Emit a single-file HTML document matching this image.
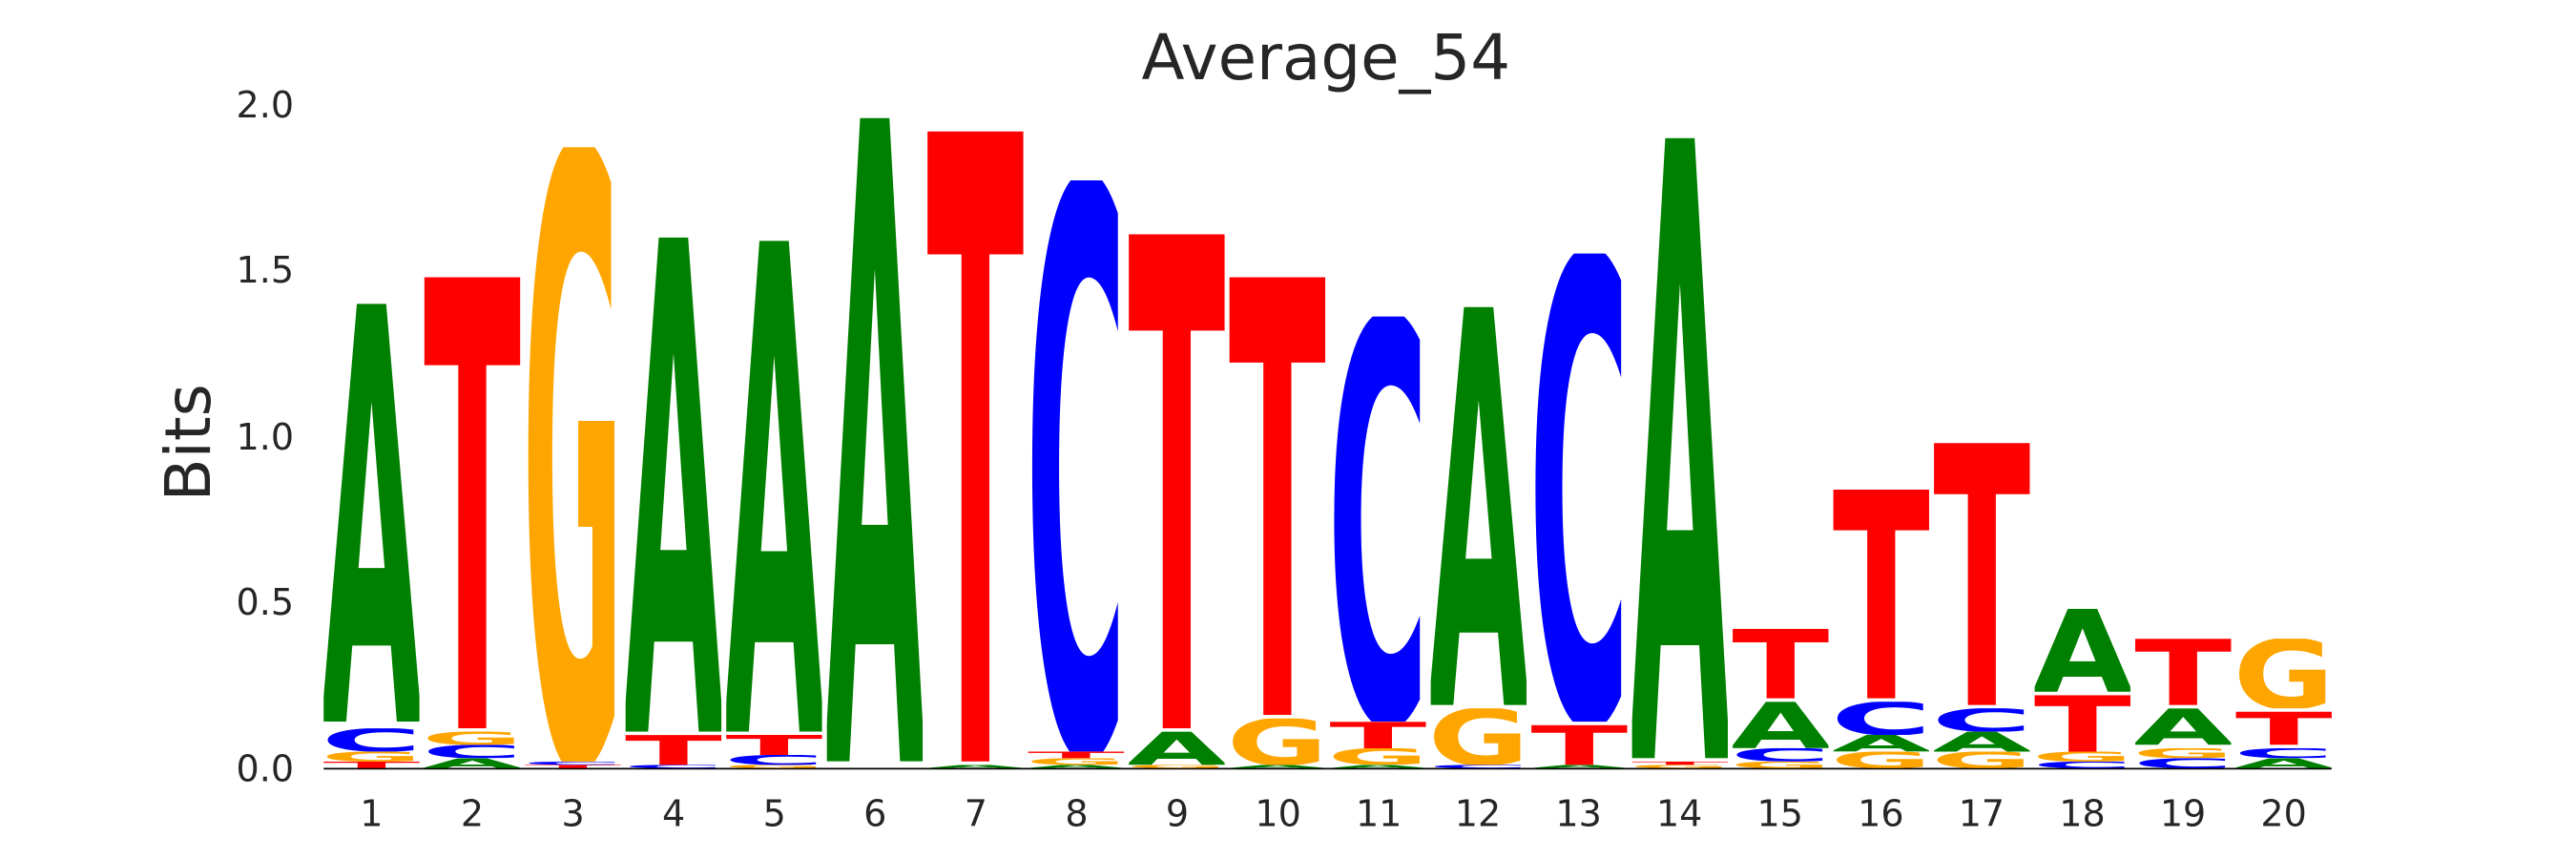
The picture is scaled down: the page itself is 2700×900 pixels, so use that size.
<!DOCTYPE html>
<html><head><meta charset="utf-8"><style>
html,body{margin:0;padding:0;background:#fff;width:2700px;height:900px;overflow:hidden;}
svg{display:block;}
svg svg{display:inline;}
.L{font-family:"DejaVu Sans","Liberation Sans",sans-serif;font-weight:bold;font-size:100px;}
.a{fill:#008000}.c{fill:#0000ff}.g{fill:#ffa500}.t{fill:#ff0000}
.lab{font-family:"DejaVu Sans","Liberation Sans",sans-serif;fill:#262626;}
</style></head><body>
<svg width="2700" height="900" viewBox="0 0 1560 520" xmlns="http://www.w3.org/2000/svg" style="position:absolute;left:0;top:0;overflow:hidden">
<text class="lab" x="803" y="48" font-size="38" text-anchor="middle">Average_54</text>
<text class="lab" x="0" y="0" font-size="38" text-anchor="middle" transform="translate(127,268) rotate(-90)">Bits</text>
<g class="lab" font-size="22" text-anchor="end">
<text x="178" y="473">0.0</text><text x="178" y="372">0.5</text><text x="178" y="272">1.0</text><text x="178" y="171">1.5</text><text x="178" y="71">2.0</text>
</g>
<g class="lab" font-size="22" text-anchor="middle">
<text x="225" y="500">1</text><text x="286" y="500">2</text><text x="347" y="500">3</text><text x="408" y="500">4</text><text x="469" y="500">5</text><text x="530" y="500">6</text><text x="591" y="500">7</text><text x="652" y="500">8</text><text x="713" y="500">9</text><text x="774" y="500">10</text><text x="835" y="500">11</text><text x="895" y="500">12</text><text x="956" y="500">13</text><text x="1017" y="500">14</text><text x="1078" y="500">15</text><text x="1139" y="500">16</text><text x="1200" y="500">17</text><text x="1261" y="500">18</text><text x="1322" y="500">19</text><text x="1383" y="500">20</text>
</g>
<line x1="196" y1="465.3" x2="1412" y2="465.3" stroke="#000" stroke-width="1"/>
<g class="L">
<svg x="196" y="461" width="58" height="4" viewBox="2 -73 68 73" preserveAspectRatio="none"><text class="t" textLength="72" lengthAdjust="spacingAndGlyphs">T</text></svg>
<svg x="196" y="455" width="58" height="6" viewBox="2 -73 68 73" preserveAspectRatio="none"><text class="g" textLength="72" lengthAdjust="spacingAndGlyphs">G</text></svg>
<svg x="196" y="440.9" width="58" height="14" viewBox="2 -73 68 73" preserveAspectRatio="none"><text class="c" textLength="72" lengthAdjust="spacingAndGlyphs">C</text></svg>
<svg x="196" y="183.6" width="58" height="253.3" viewBox="2 -73 68 73" preserveAspectRatio="none"><text class="a" textLength="72" lengthAdjust="spacingAndGlyphs">A</text></svg>
<svg x="257" y="459" width="58" height="6" viewBox="2 -73 68 73" preserveAspectRatio="none"><text class="a" textLength="72" lengthAdjust="spacingAndGlyphs">A</text></svg>
<svg x="257" y="450.9" width="58" height="8" viewBox="2 -73 68 73" preserveAspectRatio="none"><text class="c" textLength="72" lengthAdjust="spacingAndGlyphs">C</text></svg>
<svg x="257" y="442.9" width="58" height="8" viewBox="2 -73 68 73" preserveAspectRatio="none"><text class="g" textLength="72" lengthAdjust="spacingAndGlyphs">G</text></svg>
<svg x="257" y="167.5" width="58" height="273.4" viewBox="2 -73 68 73" preserveAspectRatio="none"><text class="t" textLength="72" lengthAdjust="spacingAndGlyphs">T</text></svg>
<svg x="317.9" y="463" width="58" height="2" viewBox="2 -73 68 73" preserveAspectRatio="none"><text class="t" textLength="72" lengthAdjust="spacingAndGlyphs">T</text></svg>
<svg x="317.9" y="461" width="58" height="2" viewBox="2 -73 68 73" preserveAspectRatio="none"><text class="c" textLength="72" lengthAdjust="spacingAndGlyphs">C</text></svg>
<svg x="317.9" y="89.1" width="58" height="371.9" viewBox="2 -73 68 73" preserveAspectRatio="none"><text class="g" textLength="72" lengthAdjust="spacingAndGlyphs">G</text></svg>
<svg x="378.85" y="463" width="58" height="2" viewBox="2 -73 68 73" preserveAspectRatio="none"><text class="c" textLength="72" lengthAdjust="spacingAndGlyphs">C</text></svg>
<svg x="378.85" y="444.9" width="58" height="18.1" viewBox="2 -73 68 73" preserveAspectRatio="none"><text class="t" textLength="72" lengthAdjust="spacingAndGlyphs">T</text></svg>
<svg x="378.85" y="143.4" width="58" height="299.5" viewBox="2 -73 68 73" preserveAspectRatio="none"><text class="a" textLength="72" lengthAdjust="spacingAndGlyphs">A</text></svg>
<svg x="439.8" y="463" width="58" height="2" viewBox="2 -73 68 73" preserveAspectRatio="none"><text class="g" textLength="72" lengthAdjust="spacingAndGlyphs">G</text></svg>
<svg x="439.8" y="457" width="58" height="6" viewBox="2 -73 68 73" preserveAspectRatio="none"><text class="c" textLength="72" lengthAdjust="spacingAndGlyphs">C</text></svg>
<svg x="439.8" y="444.9" width="58" height="12.1" viewBox="2 -73 68 73" preserveAspectRatio="none"><text class="t" textLength="72" lengthAdjust="spacingAndGlyphs">T</text></svg>
<svg x="439.8" y="145.4" width="58" height="297.5" viewBox="2 -73 68 73" preserveAspectRatio="none"><text class="a" textLength="72" lengthAdjust="spacingAndGlyphs">A</text></svg>
<svg x="500.75" y="71" width="58" height="389.9" viewBox="2 -73 68 73" preserveAspectRatio="none"><text class="a" textLength="72" lengthAdjust="spacingAndGlyphs">A</text></svg>
<svg x="561.7" y="463" width="58" height="2" viewBox="2 -73 68 73" preserveAspectRatio="none"><text class="a" textLength="72" lengthAdjust="spacingAndGlyphs">A</text></svg>
<svg x="561.7" y="79.1" width="58" height="381.9" viewBox="2 -73 68 73" preserveAspectRatio="none"><text class="t" textLength="72" lengthAdjust="spacingAndGlyphs">T</text></svg>
<svg x="622.65" y="463" width="58" height="2" viewBox="2 -73 68 73" preserveAspectRatio="none"><text class="a" textLength="72" lengthAdjust="spacingAndGlyphs">A</text></svg>
<svg x="622.65" y="459" width="58" height="4" viewBox="2 -73 68 73" preserveAspectRatio="none"><text class="g" textLength="72" lengthAdjust="spacingAndGlyphs">G</text></svg>
<svg x="622.65" y="455" width="58" height="4" viewBox="2 -73 68 73" preserveAspectRatio="none"><text class="t" textLength="72" lengthAdjust="spacingAndGlyphs">T</text></svg>
<svg x="622.65" y="109.2" width="58" height="345.7" viewBox="2 -73 68 73" preserveAspectRatio="none"><text class="c" textLength="72" lengthAdjust="spacingAndGlyphs">C</text></svg>
<svg x="683.6" y="463" width="58" height="2" viewBox="2 -73 68 73" preserveAspectRatio="none"><text class="g" textLength="72" lengthAdjust="spacingAndGlyphs">G</text></svg>
<svg x="683.6" y="442.9" width="58" height="20.1" viewBox="2 -73 68 73" preserveAspectRatio="none"><text class="a" textLength="72" lengthAdjust="spacingAndGlyphs">A</text></svg>
<svg x="683.6" y="141.4" width="58" height="299.5" viewBox="2 -73 68 73" preserveAspectRatio="none"><text class="t" textLength="72" lengthAdjust="spacingAndGlyphs">T</text></svg>
<svg x="744.55" y="463" width="58" height="2" viewBox="2 -73 68 73" preserveAspectRatio="none"><text class="a" textLength="72" lengthAdjust="spacingAndGlyphs">A</text></svg>
<svg x="744.55" y="434.9" width="58" height="28.1" viewBox="2 -73 68 73" preserveAspectRatio="none"><text class="g" textLength="72" lengthAdjust="spacingAndGlyphs">G</text></svg>
<svg x="744.55" y="167.5" width="58" height="265.3" viewBox="2 -73 68 73" preserveAspectRatio="none"><text class="t" textLength="72" lengthAdjust="spacingAndGlyphs">T</text></svg>
<svg x="805.5" y="463" width="58" height="2" viewBox="2 -73 68 73" preserveAspectRatio="none"><text class="a" textLength="72" lengthAdjust="spacingAndGlyphs">A</text></svg>
<svg x="805.5" y="452.9" width="58" height="10" viewBox="2 -73 68 73" preserveAspectRatio="none"><text class="g" textLength="72" lengthAdjust="spacingAndGlyphs">G</text></svg>
<svg x="805.5" y="436.9" width="58" height="16.1" viewBox="2 -73 68 73" preserveAspectRatio="none"><text class="t" textLength="72" lengthAdjust="spacingAndGlyphs">T</text></svg>
<svg x="805.5" y="191.6" width="58" height="245.2" viewBox="2 -73 68 73" preserveAspectRatio="none"><text class="c" textLength="72" lengthAdjust="spacingAndGlyphs">C</text></svg>
<svg x="866.45" y="463" width="58" height="2" viewBox="2 -73 68 73" preserveAspectRatio="none"><text class="c" textLength="72" lengthAdjust="spacingAndGlyphs">C</text></svg>
<svg x="866.45" y="428.8" width="58" height="34.2" viewBox="2 -73 68 73" preserveAspectRatio="none"><text class="g" textLength="72" lengthAdjust="spacingAndGlyphs">G</text></svg>
<svg x="866.45" y="185.6" width="58" height="241.2" viewBox="2 -73 68 73" preserveAspectRatio="none"><text class="a" textLength="72" lengthAdjust="spacingAndGlyphs">A</text></svg>
<svg x="927.4" y="463" width="58" height="2" viewBox="2 -73 68 73" preserveAspectRatio="none"><text class="a" textLength="72" lengthAdjust="spacingAndGlyphs">A</text></svg>
<svg x="927.4" y="438.9" width="58" height="24.1" viewBox="2 -73 68 73" preserveAspectRatio="none"><text class="t" textLength="72" lengthAdjust="spacingAndGlyphs">T</text></svg>
<svg x="927.4" y="153.5" width="58" height="283.4" viewBox="2 -73 68 73" preserveAspectRatio="none"><text class="c" textLength="72" lengthAdjust="spacingAndGlyphs">C</text></svg>
<svg x="988.35" y="463" width="58" height="2" viewBox="2 -73 68 73" preserveAspectRatio="none"><text class="g" textLength="72" lengthAdjust="spacingAndGlyphs">G</text></svg>
<svg x="988.35" y="461" width="58" height="2" viewBox="2 -73 68 73" preserveAspectRatio="none"><text class="t" textLength="72" lengthAdjust="spacingAndGlyphs">T</text></svg>
<svg x="988.35" y="83.1" width="58" height="375.9" viewBox="2 -73 68 73" preserveAspectRatio="none"><text class="a" textLength="72" lengthAdjust="spacingAndGlyphs">A</text></svg>
<svg x="1049.3" y="461" width="58" height="4" viewBox="2 -73 68 73" preserveAspectRatio="none"><text class="g" textLength="72" lengthAdjust="spacingAndGlyphs">G</text></svg>
<svg x="1049.3" y="452.9" width="58" height="8" viewBox="2 -73 68 73" preserveAspectRatio="none"><text class="c" textLength="72" lengthAdjust="spacingAndGlyphs">C</text></svg>
<svg x="1049.3" y="424.8" width="58" height="28.1" viewBox="2 -73 68 73" preserveAspectRatio="none"><text class="a" textLength="72" lengthAdjust="spacingAndGlyphs">A</text></svg>
<svg x="1049.3" y="380.6" width="58" height="42.2" viewBox="2 -73 68 73" preserveAspectRatio="none"><text class="t" textLength="72" lengthAdjust="spacingAndGlyphs">T</text></svg>
<svg x="1110.25" y="455" width="58" height="10" viewBox="2 -73 68 73" preserveAspectRatio="none"><text class="g" textLength="72" lengthAdjust="spacingAndGlyphs">G</text></svg>
<svg x="1110.25" y="444.9" width="58" height="10" viewBox="2 -73 68 73" preserveAspectRatio="none"><text class="a" textLength="72" lengthAdjust="spacingAndGlyphs">A</text></svg>
<svg x="1110.25" y="424.8" width="58" height="20.1" viewBox="2 -73 68 73" preserveAspectRatio="none"><text class="c" textLength="72" lengthAdjust="spacingAndGlyphs">C</text></svg>
<svg x="1110.25" y="296.2" width="58" height="126.6" viewBox="2 -73 68 73" preserveAspectRatio="none"><text class="t" textLength="72" lengthAdjust="spacingAndGlyphs">T</text></svg>
<svg x="1171.2" y="455" width="58" height="10" viewBox="2 -73 68 73" preserveAspectRatio="none"><text class="g" textLength="72" lengthAdjust="spacingAndGlyphs">G</text></svg>
<svg x="1171.2" y="442.9" width="58" height="12.1" viewBox="2 -73 68 73" preserveAspectRatio="none"><text class="a" textLength="72" lengthAdjust="spacingAndGlyphs">A</text></svg>
<svg x="1171.2" y="428.8" width="58" height="14.1" viewBox="2 -73 68 73" preserveAspectRatio="none"><text class="c" textLength="72" lengthAdjust="spacingAndGlyphs">C</text></svg>
<svg x="1171.2" y="268" width="58" height="158.8" viewBox="2 -73 68 73" preserveAspectRatio="none"><text class="t" textLength="72" lengthAdjust="spacingAndGlyphs">T</text></svg>
<svg x="1232.15" y="461" width="58" height="4" viewBox="2 -73 68 73" preserveAspectRatio="none"><text class="c" textLength="72" lengthAdjust="spacingAndGlyphs">C</text></svg>
<svg x="1232.15" y="455" width="58" height="6" viewBox="2 -73 68 73" preserveAspectRatio="none"><text class="g" textLength="72" lengthAdjust="spacingAndGlyphs">G</text></svg>
<svg x="1232.15" y="420.8" width="58" height="34.2" viewBox="2 -73 68 73" preserveAspectRatio="none"><text class="t" textLength="72" lengthAdjust="spacingAndGlyphs">T</text></svg>
<svg x="1232.15" y="368.5" width="58" height="50.3" viewBox="2 -73 68 73" preserveAspectRatio="none"><text class="a" textLength="72" lengthAdjust="spacingAndGlyphs">A</text></svg>
<svg x="1293.1" y="459" width="58" height="6" viewBox="2 -73 68 73" preserveAspectRatio="none"><text class="c" textLength="72" lengthAdjust="spacingAndGlyphs">C</text></svg>
<svg x="1293.1" y="452.9" width="58" height="6" viewBox="2 -73 68 73" preserveAspectRatio="none"><text class="g" textLength="72" lengthAdjust="spacingAndGlyphs">G</text></svg>
<svg x="1293.1" y="428.8" width="58" height="22.1" viewBox="2 -73 68 73" preserveAspectRatio="none"><text class="a" textLength="72" lengthAdjust="spacingAndGlyphs">A</text></svg>
<svg x="1293.1" y="386.6" width="58" height="40.2" viewBox="2 -73 68 73" preserveAspectRatio="none"><text class="t" textLength="72" lengthAdjust="spacingAndGlyphs">T</text></svg>
<svg x="1354.05" y="459" width="58" height="6" viewBox="2 -73 68 73" preserveAspectRatio="none"><text class="a" textLength="72" lengthAdjust="spacingAndGlyphs">A</text></svg>
<svg x="1354.05" y="452.9" width="58" height="6" viewBox="2 -73 68 73" preserveAspectRatio="none"><text class="c" textLength="72" lengthAdjust="spacingAndGlyphs">C</text></svg>
<svg x="1354.05" y="430.8" width="58" height="20.1" viewBox="2 -73 68 73" preserveAspectRatio="none"><text class="t" textLength="72" lengthAdjust="spacingAndGlyphs">T</text></svg>
<svg x="1354.05" y="386.6" width="58" height="42.2" viewBox="2 -73 68 73" preserveAspectRatio="none"><text class="g" textLength="72" lengthAdjust="spacingAndGlyphs">G</text></svg>
</g>
</svg>
</body></html>
